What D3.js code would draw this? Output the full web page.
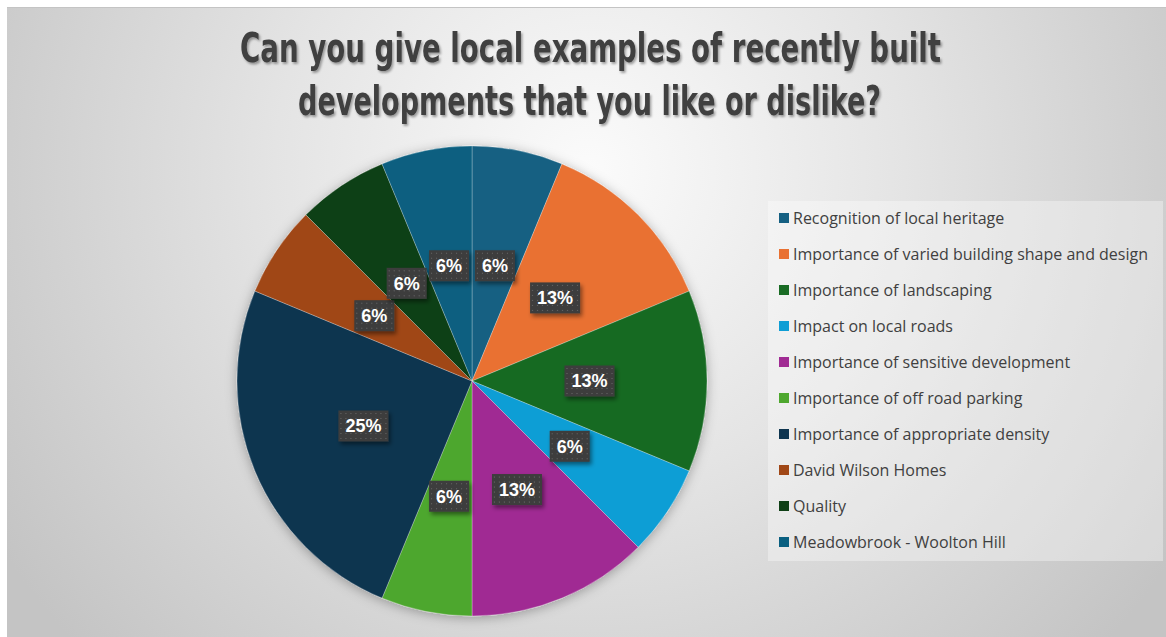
<!DOCTYPE html>
<html>
<head>
<meta charset="utf-8">
<script src="https://cdn.jsdelivr.net/npm/d3@7"></script>
<style>
  html, body { margin: 0; padding: 0; background: #ffffff; }
  svg { display: block; }
</style>
</head>
<body>
<svg id="chart" width="1166" height="637"></svg>
<script>
// Survey responses: local development themes
const titleLines = [
  "Can you give local examples of recently built",
  "developments that you like or dislike?"
];
const categories = [
  "Recognition of local heritage",
  "Importance of varied building shape and design",
  "Importance of landscaping",
  "Impact on local roads",
  "Importance of sensitive development",
  "Importance of off road parking",
  "Importance of appropriate density",
  "David Wilson Homes",
  "Quality",
  "Meadowbrook - Woolton Hill"
];
const responses = [1, 2, 2, 1, 2, 1, 4, 1, 1, 1];
const colors = [
  "#156082", "#E97132", "#196B24", "#0F9ED5", "#A02B93",
  "#4EA72E", "#0E3550", "#A04716", "#0F4016", "#095F80"
];

const W = 1166, H = 637;
const svg = d3.select("#chart");
const defs = svg.append("defs");

// Background gradient
const bg = defs.append("radialGradient").attr("id", "bgGrad")
  .attr("gradientUnits", "userSpaceOnUse")
  .attr("cx", 590).attr("cy", 170).attr("r", 700);
bg.append("stop").attr("offset", "0%").attr("stop-color", "#fbfbfb");
bg.append("stop").attr("offset", "45%").attr("stop-color", "#e4e4e4");
bg.append("stop").attr("offset", "100%").attr("stop-color", "#c4c4c4");

// Soft shadow under the pie
const pieShadow = defs.append("filter").attr("id", "pieShadow")
  .attr("x", "-20%").attr("y", "-20%").attr("width", "140%").attr("height", "140%");
pieShadow.append("feDropShadow").attr("dx", 0).attr("dy", 2)
  .attr("stdDeviation", 6).attr("flood-color", "#000").attr("flood-opacity", 0.3);

// Shadow for the title
const titleShadow = defs.append("filter").attr("id", "titleShadow")
  .attr("x", "-5%").attr("y", "-20%").attr("width", "110%").attr("height", "150%");
titleShadow.append("feDropShadow").attr("dx", 1.5).attr("dy", 2)
  .attr("stdDeviation", 1.2).attr("flood-color", "#000").attr("flood-opacity", 0.35);

// Shadow for data label boxes
const boxShadow = defs.append("filter").attr("id", "boxShadow")
  .attr("x", "-30%").attr("y", "-30%").attr("width", "170%").attr("height", "180%");
boxShadow.append("feDropShadow").attr("dx", 2).attr("dy", 3)
  .attr("stdDeviation", 2).attr("flood-color", "#000").attr("flood-opacity", 0.45);

// Dotted fill for data label boxes
const dots = defs.append("pattern").attr("id", "dots")
  .attr("patternUnits", "userSpaceOnUse").attr("width", 5).attr("height", 5);
dots.append("rect").attr("width", 5).attr("height", 5).attr("fill", "#3d3d3d");
dots.append("circle").attr("cx", 2.5).attr("cy", 2.5).attr("r", 0.6).attr("fill", "#6e6e6e");

// Chart area
svg.append("rect").attr("x", 7).attr("y", 7).attr("width", W - 7).attr("height", H - 7)
  .attr("fill", "url(#bgGrad)");
svg.append("line").attr("x1", 7).attr("x2", W).attr("y1", 7.5).attr("y2", 7.5)
  .attr("stroke", "#c4c4c4").attr("stroke-width", 1);

// Title
const titleG = svg.append("g").attr("filter", "url(#titleShadow)");
const titleSpec = [
  { y: 62, x0: 240, x1: 941 },
  { y: 115, x0: 298, x1: 881 }
];
titleLines.forEach((t, i) => {
  const s = titleSpec[i];
  titleG.append("text")
    .attr("x", s.x0).attr("y", s.y)
    .attr("textLength", s.x1 - s.x0)
    .attr("lengthAdjust", "spacingAndGlyphs")
    .attr("font-family", "'Liberation Sans Narrow', 'DejaVu Sans Condensed', 'Liberation Sans', Arial, sans-serif")
    .attr("font-weight", "bold")
    .attr("font-size", 40)
    .attr("fill", "#404040")
    .text(t);
});

// Pie
const cx = 472, cy = 381, R = 235;
const total = d3.sum(responses);
const pie = d3.pie().sort(null).value(d => d);
const arcs = pie(responses);
const arc = d3.arc().innerRadius(0).outerRadius(R);
const color = d3.scaleOrdinal().domain(d3.range(categories.length)).range(colors);
const pct = d3.format(".0%");

const pieG = svg.append("g").attr("transform", `translate(${cx},${cy})`);
pieG.append("g").attr("filter", "url(#pieShadow)")
  .selectAll("path").data(arcs).join("path")
  .attr("d", arc)
  .attr("fill", (d, i) => color(i))
  .attr("stroke", "rgba(255,255,255,0.45)")
  .attr("stroke-width", 0.6);

// Data labels at half radius
const labelG = pieG.append("g");
arcs.forEach((d, i) => {
  const [lx, ly] = arc.centroid(d);
  const g = labelG.append("g").attr("transform", `translate(${lx},${ly})`);
  const rect = g.append("rect").attr("fill", "url(#dots)").attr("filter", "url(#boxShadow)");
  const txt = g.append("text")
    .attr("text-anchor", "middle")
    .attr("dy", "0.36em")
    .attr("font-family", "'Liberation Sans', Arial, sans-serif")
    .attr("font-weight", "bold")
    .attr("font-size", 18)
    .attr("fill", "#ffffff")
    .text(pct(d.data / total));
  const w = txt.node().getComputedTextLength() + 14, h = 31;
  rect.attr("x", -w / 2).attr("y", -h / 2).attr("width", w).attr("height", h);
});

// Legend
const legX = 768, legY = 201, legW = 395, legH = 360;
svg.append("rect").attr("x", legX).attr("y", legY).attr("width", legW).attr("height", legH)
  .attr("fill", "#ffffff").attr("fill-opacity", 0.35);
const legend = svg.append("g");
const rowY = d3.scalePoint().domain(d3.range(categories.length)).range([218, 542]);
categories.forEach((c, i) => {
  const y = rowY(i);
  legend.append("rect").attr("x", 779).attr("y", y - 5).attr("width", 10).attr("height", 10)
    .attr("fill", color(i));
  legend.append("text").attr("x", 793).attr("y", y).attr("dy", "0.35em")
    .attr("font-family", "'Open Sans', 'Noto Sans', sans-serif")
    .attr("font-size", 16)
    .attr("fill", "#404040")
    .text(c);
});
</script>
</body>
</html>
